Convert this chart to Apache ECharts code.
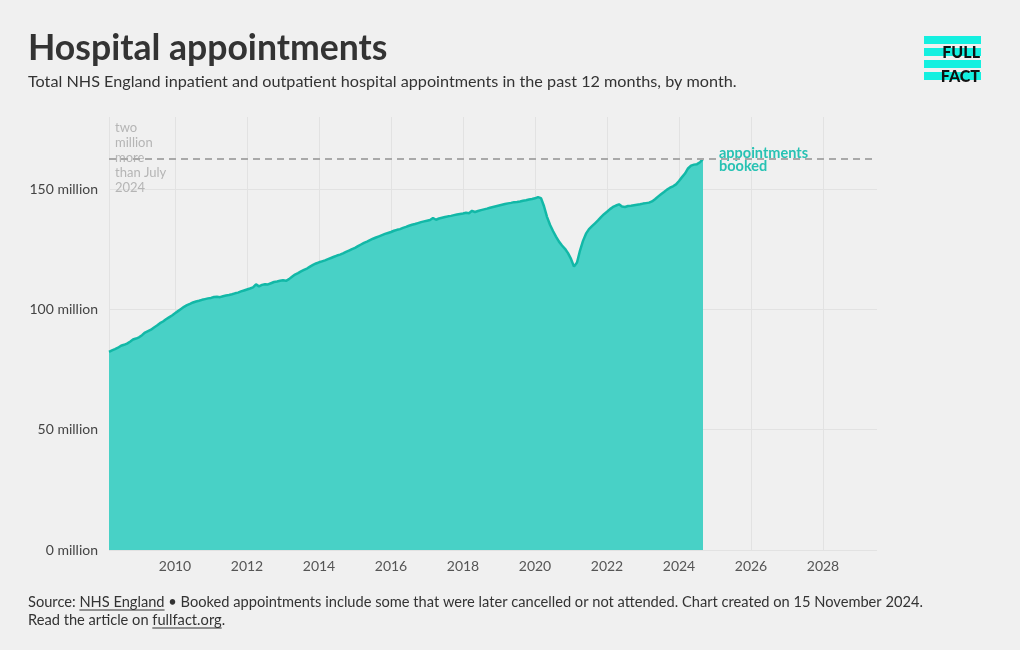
<!DOCTYPE html>
<html><head><meta charset="utf-8">
<script src="https://cdn.jsdelivr.net/npm/echarts@6/dist/echarts.min.js"></script>
<style>html,body{margin:0;padding:0;background:#f0f0f0}#c{width:1020px;height:650px}</style>
</head><body><div id="c"></div>
<script>
// Monthly values, millions of appointments (12-month rolling total)
const firstYear = 2008, firstMonth = 3;
const y2008 = [82.4, 83.0, 83.5, 84.1, 84.9, 85.3, 85.8, 86.6, 87.5, 87.9];
const y2009 = [88.4, 89.3, 90.4, 91.0, 91.6, 92.5, 93.3, 94.3, 95.0, 95.9, 96.7, 97.5];
const y2010 = [98.4, 99.3, 100.2, 101.1, 101.8, 102.3, 102.9, 103.3, 103.6, 104.0, 104.3, 104.6];
const y2011 = [104.8, 105.2, 105.3, 105.1, 105.5, 105.8, 106.0, 106.3, 106.7, 107.0, 107.5, 107.9];
const y2012 = [108.3, 108.7, 109.2, 110.4, 109.6, 110.2, 110.5, 110.4, 110.9, 111.4, 111.6, 111.9];
const y2013 = [112.1, 111.9, 112.6, 113.6, 114.5, 115.1, 115.8, 116.4, 117.0, 117.8, 118.5, 119.1];
const y2014 = [119.6, 120.0, 120.4, 120.9, 121.4, 121.9, 122.4, 122.8, 123.3, 123.9, 124.5, 125.1];
const y2015 = [125.6, 126.3, 127.0, 127.7, 128.2, 128.8, 129.4, 129.9, 130.4, 130.9, 131.4, 131.8];
const y2016 = [132.2, 132.7, 133.1, 133.4, 133.9, 134.3, 134.8, 135.2, 135.5, 135.9, 136.3, 136.6];
const y2017 = [136.9, 137.2, 138.0, 137.3, 137.8, 138.1, 138.4, 138.7, 138.9, 139.2, 139.5, 139.7];
const y2018 = [139.9, 140.2, 140.0, 141.0, 140.5, 140.9, 141.3, 141.6, 141.9, 142.3, 142.6, 142.9];
const y2019 = [143.2, 143.5, 143.8, 144.1, 144.3, 144.6, 144.7, 144.9, 145.2, 145.4, 145.7, 145.9];
const y2020 = [146.2, 146.7, 146.3, 142.9, 138.5, 135.2, 132.6, 130.3, 128.2, 126.6, 125.2, 123.4];
const y2021 = [121.0, 117.8, 119.5, 124.5, 128.5, 131.5, 133.4, 134.6, 135.8, 137.0, 138.4, 139.6];
const y2022 = [140.6, 141.7, 142.6, 143.2, 143.7, 142.8, 142.6, 143.0, 143.1, 143.3, 143.5, 143.7];
const y2023 = [144.0, 144.2, 144.4, 144.9, 145.8, 146.9, 147.9, 148.8, 149.8, 150.6, 151.2, 152.0];
const y2024 = [153.4, 155.0, 156.5, 158.6, 159.8, 160.2, 160.4, 161.2, 162.6];

const yearlyValues = [y2008, y2009, y2010, y2011, y2012, y2013, y2014, y2015, y2016, y2017, y2018, y2019, y2020, y2021, y2022, y2023, y2024];
const xTickYears = [2010, 2012, 2014, 2016, 2018, 2020, 2022, 2024, 2026, 2028];
const yTicks = [0, 50, 100, 150];
const xAxisEnd = 2029.5;

const points = [];
yearlyValues.forEach((arr, i) => {
  const yr = firstYear + i;
  const m0 = i === 0 ? firstMonth : 1;
  arr.forEach((v, j) => points.push([yr + (m0 - 1 + j) / 12, v]));
});
const latest = points[points.length - 1];

const FONT = 'Lato, "Noto Sans", sans-serif';
const chart = echarts.init(document.getElementById('c'), null, {renderer: 'canvas'});

chart.setOption({
  backgroundColor: '#f0f0f0',
  animation: false,
  textStyle: {fontFamily: FONT},
  grid: {left: 109, right: 143, top: 117, bottom: 100, outerBoundsMode: 'none'},
  xAxis: {
    type: 'value', min: points[0][0], max: xAxisEnd, splitNumber: 10,
    axisLine: {show: false}, axisTick: {show: false},
    axisLabel: {
      color: '#555', fontSize: 14, margin: 9, fontFamily: FONT,
      formatter: v => { const r = Math.round(v); return (Math.abs(v - r) < 0.01 && xTickYears.includes(r)) ? String(r) : ''; }
    },
    splitLine: {show: true, showMaxLine: false, lineStyle: {color: '#e2e2e2', width: 1}}
  },
  yAxis: {
    type: 'value', min: 0, max: 180, interval: 50,
    axisLine: {show: false}, axisTick: {show: false},
    axisLabel: {
      color: '#444', fontSize: 14, margin: 11, fontFamily: FONT,
      formatter: v => yTicks.includes(v) ? v + ' million' : ''
    },
    splitLine: {show: true, showMaxLine: false, lineStyle: {color: '#e2e2e2', width: 1}}
  },
  series: [{
    type: 'line', data: points, showSymbol: false, smooth: false,
    lineStyle: {color: '#12b8a7', width: 2.5},
    areaStyle: {color: '#48d1c6', opacity: 1},
    z: 2,
    markLine: {
      silent: true, symbol: 'none', z: 5,
      data: [{yAxis: latest[1]}],
      lineStyle: {color: '#a9a9a9', type: [7, 5], width: 2},
      label: {show: false}
    }
  }]
});

// annotations positioned via the chart's scales
const pLeft = chart.convertToPixel({gridIndex: 0}, [points[0][0], 180]);
const pEnd = chart.convertToPixel({gridIndex: 0}, latest);

const ctx = document.createElement('canvas').getContext('2d');
function w(text, font) { ctx.font = font; return ctx.measureText(text).width; }

const footFont = '14.65px ' + FONT;
const footParts1 = ['Source: ', 'NHS England', ' \u2022 Booked appointments include some that were later cancelled or not attended. Chart created on 15 November 2024.'];
const footParts2 = ['Read the article on ', 'fullfact.org', '.'];
const graphics = [];
function footerLine(parts, y) {
  let x = 28;
  parts.forEach((t, i) => {
    graphics.push({type: 'text', x: x, y: y, style: {text: t, font: footFont, fill: '#333', textVerticalAlign: 'middle'}});
    const ww = w(t, footFont);
    if (i === 1) graphics.push({type: 'line', shape: {x1: x, y1: y + 8, x2: x + ww, y2: y + 8}, style: {stroke: '#333', lineWidth: 1}});
    x += ww;
  });
}
footerLine(footParts1, 602);
footerLine(footParts2, 620);

graphics.push(
  {type: 'text', x: 28, y: 49, style: {text: 'Hospital appointments', font: 'bold 35.6px ' + FONT, fill: '#333', textVerticalAlign: 'middle'}},
  {type: 'text', x: 28, y: 82, style: {text: 'Total NHS England inpatient and outpatient hospital appointments in the past 12 months, by month.', font: '16.2px ' + FONT, fill: '#333', textVerticalAlign: 'middle'}},
  {type: 'text', x: pLeft[0] + 6, y: 120, style: {text: 'two\nmillion\nmore\nthan July\n2024', font: '13px ' + FONT, fill: '#b5b5b5', lineHeight: 15, textVerticalAlign: 'top'}},
  {type: 'text', x: pEnd[0] + 16, y: 147, style: {text: 'appointments\nbooked', font: 'bold 14.5px ' + FONT, fill: '#27c2b3', lineHeight: 13, textVerticalAlign: 'top'}},
  {type: 'rect', shape: {x: 924, y: 36, width: 57, height: 8}, style: {fill: '#14f0e0'}},
  {type: 'rect', shape: {x: 924, y: 48, width: 57, height: 8}, style: {fill: '#14f0e0'}},
  {type: 'rect', shape: {x: 924, y: 60, width: 57, height: 8}, style: {fill: '#14f0e0'}},
  {type: 'rect', shape: {x: 924, y: 72, width: 57, height: 8}, style: {fill: '#14f0e0'}},
  {type: 'text', x: 980, y: 53, style: {text: 'FULL', font: '900 16px ' + FONT, fill: '#111', textAlign: 'right', textVerticalAlign: 'middle'}},
  {type: 'text', x: 980, y: 77, style: {text: 'FACT', font: '900 16px ' + FONT, fill: '#111', textAlign: 'right', textVerticalAlign: 'middle'}}
);
chart.setOption({graphic: graphics});
</script></body></html>
